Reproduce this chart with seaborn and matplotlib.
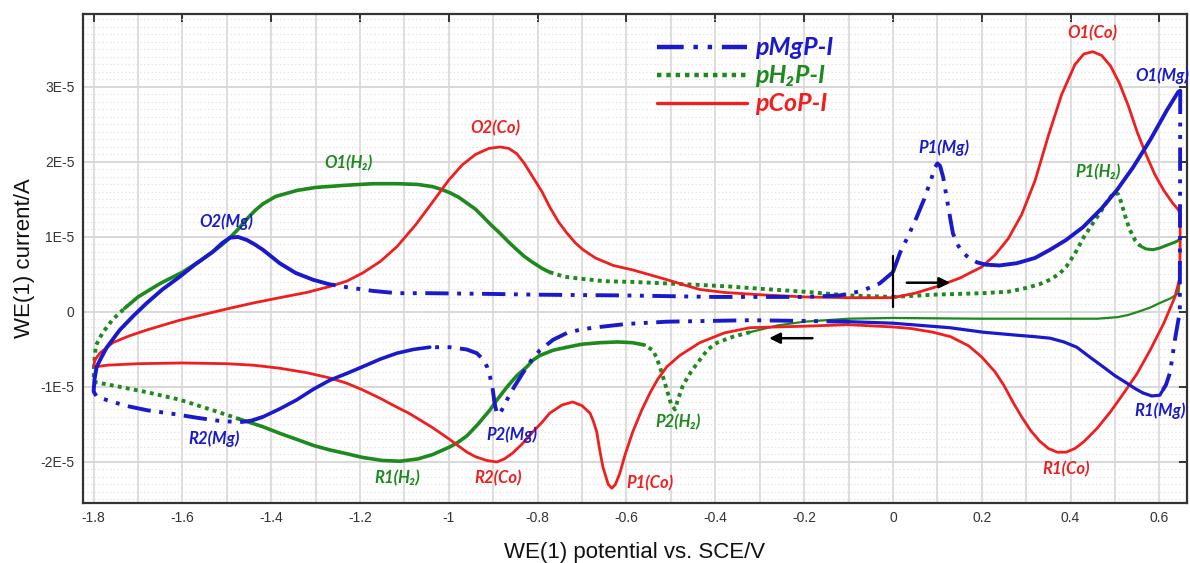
import numpy as np
import pandas as pd
import matplotlib
matplotlib.use("Agg")
import matplotlib.pyplot as plt
from matplotlib.ticker import FixedLocator, FixedFormatter, MultipleLocator
from matplotlib.lines import Line2D
import seaborn as sns

# Currents are listed in units of 1E-5 A
SCALE = 1e-5

# pMgP-I : anodic scan from 0 V to 0.65 V, cathodic scan to -1.8 V, anodic scan back to 0 V
mg_e = [0.0, 0.016, 0.035, 0.054, 0.07, 0.085, 0.095, 0.1, 0.106, 0.113, 0.122, 0.129,
        0.135, 0.145, 0.158, 0.173, 0.19, 0.21, 0.24, 0.279, 0.32, 0.354, 0.39, 0.428,
        0.47, 0.505, 0.541, 0.579, 0.617, 0.642,
        0.647, 0.646, 0.64, 0.635, 0.624, 0.615, 0.608, 0.601, 0.583, 0.563, 0.545,
        0.527, 0.5, 0.473, 0.443, 0.414, 0.385, 0.354, 0.32, 0.279, 0.203, 0.128, 0.0,
        -0.097, -0.2, -0.322, -0.509, -0.6, -0.66, -0.7, -0.734, -0.765, -0.795, -0.815,
        -0.833, -0.852, -0.869, -0.88, -0.887, -0.892, -0.897, -0.901, -0.907, -0.914,
        -0.925, -0.937, -0.96, -0.998, -1.043, -1.08, -1.117, -1.155, -1.194, -1.23,
        -1.268, -1.305, -1.342, -1.38, -1.419, -1.445, -1.471, -1.52, -1.568, -1.62,
        -1.68, -1.72, -1.757, -1.793,
        -1.8, -1.798, -1.793, -1.782, -1.77, -1.741, -1.71, -1.68, -1.645, -1.606,
        -1.57, -1.532, -1.51, -1.493, -1.475, -1.455, -1.437, -1.419, -1.4, -1.381,
        -1.345, -1.306, -1.27, -1.23, -1.17, -1.117, -1.043, -0.9, -0.8, -0.6, -0.4,
        -0.2, -0.12, -0.07, -0.03, 0.0]
mg_i = [0.53, 0.79, 1.02, 1.27, 1.5, 1.75, 1.93, 1.98, 1.95, 1.8, 1.49, 1.25,
        1.05, 0.9, 0.79, 0.71, 0.66, 0.63, 0.62, 0.65, 0.72, 0.83, 0.96, 1.13,
        1.38, 1.63, 1.93, 2.29, 2.69, 2.93,
        2.95, 0.0, -0.2, -0.37, -0.81, -0.97, -1.04, -1.11, -1.12, -1.08, -1.02,
        -0.95, -0.85, -0.73, -0.6, -0.47, -0.4, -0.35, -0.33, -0.31, -0.27, -0.21, -0.15,
        -0.13, -0.12, -0.11, -0.13, -0.16, -0.2, -0.23, -0.28, -0.37, -0.51, -0.65,
        -0.81, -0.99, -1.17, -1.3, -1.37, -1.35, -1.22, -1.04, -0.87, -0.73,
        -0.62, -0.55, -0.5, -0.47, -0.47, -0.5, -0.55, -0.63, -0.73, -0.82,
        -0.91, -1.03, -1.17, -1.29, -1.4, -1.45, -1.47, -1.45, -1.41, -1.36,
        -1.31, -1.26, -1.2, -1.13,
        -1.06, -0.9, -0.73, -0.6, -0.47, -0.24, -0.05, 0.12, 0.3, 0.47,
        0.64, 0.8, 0.92, 0.99, 1.0, 0.96, 0.9, 0.83, 0.74, 0.65,
        0.52, 0.43, 0.37, 0.33, 0.28, 0.25, 0.25, 0.24, 0.23, 0.22, 0.2,
        0.2, 0.22, 0.28, 0.38, 0.53]

# pH2P-I
h2_e = [0.0, 0.09, 0.2, 0.26, 0.3, 0.33, 0.354, 0.375, 0.39, 0.41, 0.43, 0.45, 0.466,
        0.48, 0.492, 0.5, 0.507, 0.513, 0.518, 0.526, 0.534, 0.545, 0.557, 0.57, 0.585,
        0.6, 0.617, 0.635, 0.645,
        0.647, 0.646, 0.643, 0.625, 0.601, 0.58, 0.556, 0.53, 0.505, 0.46, 0.428, 0.2,
        0.0, -0.1, -0.2, -0.26, -0.322, -0.36, -0.396, -0.417, -0.435, -0.455, -0.473,
        -0.483, -0.491, -0.5, -0.509, -0.517, -0.525, -0.533, -0.541, -0.56, -0.586,
        -0.62, -0.66, -0.7, -0.734, -0.765, -0.795, -0.81, -0.824, -0.847, -0.869,
        -0.89, -0.908, -0.935, -0.959, -0.98, -0.998, -1.036, -1.07, -1.11, -1.15,
        -1.194, -1.23, -1.268, -1.305, -1.342, -1.38, -1.419, -1.471, -1.532, -1.606,
        -1.68, -1.757, -1.793,
        -1.8, -1.799, -1.795, -1.78, -1.757, -1.73, -1.7, -1.65, -1.6, -1.56, -1.532,
        -1.51, -1.493, -1.475, -1.455, -1.435, -1.419, -1.39, -1.342, -1.3, -1.23,
        -1.17, -1.117, -1.07, -1.036, -1.015, -0.998, -0.978, -0.959, -0.94, -0.923,
        -0.905, -0.885, -0.865, -0.847, -0.83, -0.811, -0.79, -0.773, -0.74, -0.698,
        -0.65, -0.586, -0.509, -0.435, -0.37, -0.3, -0.2, -0.1, 0.0]
h2_i = [0.2, 0.23, 0.25, 0.27, 0.32, 0.37, 0.43, 0.51, 0.6, 0.78, 1.0, 1.18, 1.32,
        1.45, 1.55, 1.59, 1.57, 1.48, 1.38, 1.22, 1.09, 0.96, 0.88, 0.84, 0.83,
        0.85, 0.89, 0.93, 0.96,
        0.97, 0.45, 0.25, 0.18, 0.12, 0.06, 0.01, -0.04, -0.07, -0.09, -0.09, -0.09,
        -0.08, -0.09, -0.13, -0.18, -0.27, -0.33, -0.41, -0.5, -0.64, -0.8, -0.98,
        -1.15, -1.3, -1.22, -1.04, -0.88, -0.73, -0.6, -0.51, -0.44, -0.41,
        -0.4, -0.41, -0.43, -0.47, -0.51, -0.58, -0.64, -0.73, -0.85, -1.0,
        -1.16, -1.31, -1.5, -1.65, -1.74, -1.8, -1.9, -1.96, -1.99, -1.98,
        -1.94, -1.89, -1.84, -1.78, -1.7, -1.62, -1.53, -1.43, -1.31, -1.17,
        -1.07, -0.98, -0.94,
        -0.92, -0.7, -0.45, -0.28, -0.1, 0.05, 0.2, 0.38, 0.53, 0.68, 0.8,
        0.9, 0.99, 1.1, 1.24, 1.36, 1.44, 1.54, 1.62, 1.66, 1.69,
        1.71, 1.71, 1.7, 1.67, 1.63, 1.59, 1.53, 1.45, 1.37, 1.27,
        1.16, 1.05, 0.93, 0.83, 0.74, 0.66, 0.58, 0.53, 0.47, 0.44,
        0.41, 0.4, 0.38, 0.36, 0.34, 0.31, 0.27, 0.22, 0.2]

# pCoP-I
co_e = [0.0, 0.05, 0.1, 0.15, 0.2, 0.23, 0.26, 0.29, 0.32, 0.35, 0.38, 0.41, 0.43,
        0.45, 0.47, 0.49, 0.51, 0.53, 0.55, 0.57, 0.59, 0.61, 0.63, 0.643,
        0.647, 0.646, 0.635, 0.61, 0.58, 0.55, 0.52, 0.49, 0.46, 0.43, 0.41, 0.39,
        0.37, 0.35, 0.33, 0.31, 0.29, 0.27, 0.25, 0.23, 0.2, 0.17, 0.13, 0.09, 0.04,
        0.0, -0.1, -0.2, -0.322, -0.38, -0.435, -0.48, -0.509, -0.53, -0.547, -0.565,
        -0.586, -0.603, -0.615, -0.625, -0.633, -0.641, -0.653, -0.66, -0.667, -0.675,
        -0.682, -0.7, -0.721, -0.745, -0.773, -0.79, -0.811, -0.835, -0.856, -0.875,
        -0.892, -0.915, -0.94, -0.959, -0.98, -0.998, -1.02, -1.04, -1.065, -1.09,
        -1.117, -1.155, -1.194, -1.23, -1.268, -1.32, -1.381, -1.44, -1.5, -1.6, -1.7,
        -1.77, -1.793,
        -1.8, -1.797, -1.786, -1.757, -1.72, -1.68, -1.606, -1.55, -1.493, -1.44,
        -1.381, -1.32, -1.268, -1.23, -1.194, -1.155, -1.117, -1.075, -1.036, -1.0,
        -0.97, -0.94, -0.91, -0.885, -0.865, -0.847, -0.83, -0.811, -0.79, -0.773,
        -0.753, -0.734, -0.715, -0.698, -0.67, -0.63, -0.586, -0.55, -0.509, -0.47,
        -0.435, -0.38, -0.3, -0.2, -0.1, 0.0]
co_i = [0.19, 0.25, 0.34, 0.45, 0.6, 0.76, 0.98, 1.3, 1.75, 2.35, 2.9, 3.3, 3.44,
        3.47, 3.42, 3.28, 3.05, 2.75, 2.4, 2.1, 1.83, 1.62, 1.45, 1.36,
        1.3, 0.45, 0.2, -0.15, -0.5, -0.82, -1.08, -1.33, -1.55, -1.73, -1.82, -1.87,
        -1.87, -1.82, -1.72, -1.58, -1.4, -1.2, -0.98, -0.8, -0.6, -0.45, -0.33, -0.27,
        -0.22, -0.2, -0.17, -0.19, -0.21, -0.28, -0.41, -0.58, -0.73, -0.9, -1.08, -1.3,
        -1.6, -1.9, -2.15, -2.3, -2.35, -2.3, -2.07, -1.85, -1.6, -1.45,
        -1.35, -1.25, -1.2, -1.24, -1.35, -1.47, -1.6, -1.76, -1.88, -1.96,
        -2.0, -1.98, -1.93, -1.87, -1.78, -1.7, -1.61, -1.53, -1.44, -1.35,
        -1.27, -1.15, -1.04, -0.95, -0.88, -0.81, -0.75, -0.71, -0.69, -0.68, -0.69,
        -0.71, -0.73,
        -0.72, -0.64, -0.55, -0.41, -0.32, -0.24, -0.11, -0.03, 0.05, 0.12,
        0.19, 0.26, 0.34, 0.41, 0.52, 0.67, 0.87, 1.16, 1.47, 1.76,
        1.96, 2.1, 2.18, 2.2, 2.18, 2.11, 1.98, 1.8, 1.6, 1.4,
        1.2, 1.05, 0.92, 0.83, 0.72, 0.62, 0.56, 0.5, 0.43, 0.36,
        0.3, 0.26, 0.23, 0.2, 0.19, 0.19]

series_names = ["pMgP-I", "pH\u2082P-I", "pCoP-I"]

x_ticks = [-1.8, -1.6, -1.4, -1.2, -1.0, -0.8, -0.6, -0.4, -0.2, 0.0, 0.2, 0.4, 0.6]
x_tick_labels = ["-1.8", "-1.6", "-1.4", "-1.2", "-1", "-0.8", "-0.6", "-0.4", "-0.2",
                 "0", "0.2", "0.4", "0.6"]
y_ticks = [-2e-5, -1e-5, 0.0, 1e-5, 2e-5, 3e-5]
y_tick_labels = ["-2E-5", "-1E-5", "0", "1E-5", "2E-5", "3E-5"]

# Peak labels: text, potential (V), current (1E-5 A), series key
peak_labels = [
    ("O1(Co)", 0.448, 3.72, "co"), ("O1(Mg)", 0.606, 3.15, "mg"),
    ("P1(Mg)", 0.115, 2.19, "mg"), ("P1(H\u2082)", 0.462, 1.87, "h2"),
    ("O2(Co)", -0.896, 2.45, "co"), ("O1(H\u2082)", -1.227, 1.99, "h2"),
    ("O2(Mg)", -1.502, 1.20, "mg"), ("R2(Mg)", -1.529, -1.69, "mg"),
    ("R1(H\u2082)", -1.117, -2.21, "h2"), ("R2(Co)", -0.89, -2.21, "co"),
    ("P2(Mg)", -0.858, -1.64, "mg"), ("P1(Co)", -0.547, -2.28, "co"),
    ("P2(H\u2082)", -0.484, -1.47, "h2"), ("R1(Co)", 0.39, -2.09, "co"),
    ("R1(Mg)", 0.601, -1.32, "mg"),
]

colors = {"mg": "#1a1acc", "h2": "#1e8a1e", "co": "#f01e1e"}
patterns = {
    "mg": dict(lw=2.8, ls=(0, (6, 2.2, 1, 2.2, 1, 2.2))),
    "h2": dict(lw=2.8, ls=(0, (1, 1.1))),
    "co": dict(lw=2.0, ls="-"),
}
# Stretches of the traces where the recorded points are dense enough to read as a
# continuous line: (scan branch, lower E, upper E, width)
dense_runs = {
    "mg": [("a1", 0.22, 0.7, 2.8), ("c", -0.1, 0.61, 2.3), ("c", -1.4, -1.05, 2.6),
           ("a2", -1.85, -1.3, 2.8)],
    "h2": [("a1", 0.555, 0.7, 2.2), ("c", -0.3, 0.7, 1.6), ("c", -1.45, -0.56, 2.6),
           ("a2", -1.74, -0.76, 2.6)],
    "co": [],
}


def branch_of_segments(e):
    e = np.asarray(e)
    i_hi, i_lo = int(np.argmax(e)), int(np.argmin(e))
    out = []
    for k in range(len(e) - 1):
        out.append("a1" if k < i_hi else ("c" if k < i_lo else "a2"))
    return out


def draw_trace(ax, key, e, i, z):
    e = np.asarray(e, dtype=float)
    i = np.asarray(i, dtype=float) * SCALE
    branches = branch_of_segments(e)
    seg_style = []
    for k in range(len(e) - 1):
        mid = 0.5 * (e[k] + e[k + 1])
        st = ("pat", patterns[key]["lw"])
        for br, lo, hi, w in dense_runs[key]:
            if branches[k] == br and lo <= mid <= hi:
                st = ("solid", w)
                break
        seg_style.append(st)
    start = 0
    for k in range(1, len(seg_style) + 1):
        if k == len(seg_style) or seg_style[k] != seg_style[start]:
            kind, w = seg_style[start]
            run = pd.DataFrame({"E": e[start:k + 1], "I": i[start:k + 1]})
            ls = "-" if kind == "solid" else patterns[key]["ls"]
            sns.lineplot(data=run, x="E", y="I", sort=False, estimator=None, ax=ax,
                         color=colors[key], linewidth=w, linestyle=ls, zorder=z)
            start = k


sns.set_theme(style="white")
plt.rcParams["font.family"] = ["Liberation Sans", "DejaVu Sans"]

fig = plt.figure(figsize=(11.9, 5.63), dpi=100)
ax = fig.add_axes([0.0697, 0.1066, 0.9277, 0.8686])

draw_trace(ax, "h2", h2_e, h2_i, 3)
draw_trace(ax, "co", co_e, co_i, 4)
draw_trace(ax, "mg", mg_e, mg_i, 5)

ax.set_xlim(-1.824, 0.662)
ax.set_ylim(-2.547e-5, 3.973e-5)

ax.xaxis.set_major_locator(FixedLocator(x_ticks))
ax.xaxis.set_major_formatter(FixedFormatter(x_tick_labels))
ax.xaxis.set_minor_locator(MultipleLocator(0.1))
ax.yaxis.set_major_locator(FixedLocator(y_ticks))
ax.yaxis.set_major_formatter(FixedFormatter(y_tick_labels))
ax.yaxis.set_minor_locator(MultipleLocator(1e-6))

ax.tick_params(which="both", direction="in", top=True, right=True, color="#333333")
ax.tick_params(which="major", length=6, width=1.4, labelsize=10, labelcolor="#333333", pad=6)
ax.tick_params(which="minor", length=3.5, width=1.0)
ax.tick_params(axis="y", which="minor", right=False)
ax.tick_params(axis="x", which="minor", top=False)

ax.set_axisbelow(True)
ax.xaxis.grid(True, which="both", color="#d8d8d8", lw=1.2, ls="-")
ax.yaxis.grid(True, which="major", color="#d8d8d8", lw=1.4, ls="-")
ax.yaxis.grid(True, which="minor", color="#e2e2e2", lw=0.8, ls=(0, (1.2, 2.2)))

for s in ax.spines.values():
    s.set_color("#333333")
    s.set_linewidth(1.6)

ax.set_xlabel("WE(1) potential vs. SCE/V", fontsize=16, color="#111111")
ax.set_ylabel("WE(1) current/A", fontsize=16, color="#111111")
ax.xaxis.set_label_coords(0.5, -0.08)
ax.yaxis.set_label_coords(-0.043, 0.5)

ann_font = ["Lato", "DejaVu Sans"]
for text, e, i, key in peak_labels:
    ax.text(e, i * SCALE, text, color=colors[key], fontsize=12, fontweight="bold",
            fontstyle="italic", family=ann_font, ha="center", va="center", zorder=7)

# Scan start marker and scan direction arrows
ax.plot([0, 0], [0.07 * SCALE, 0.75 * SCALE], color="black", lw=1.6, zorder=6)
ax.annotate("", xy=(0.135, 0.39 * SCALE), xytext=(0.025, 0.39 * SCALE),
            arrowprops=dict(arrowstyle="-|>", color="black", lw=1.8, mutation_scale=16),
            zorder=6)
ax.annotate("", xy=(-0.285, -0.35 * SCALE), xytext=(-0.175, -0.35 * SCALE),
            arrowprops=dict(arrowstyle="-|>", color="black", lw=1.8, mutation_scale=16),
            zorder=6)

handles = [Line2D([], [], color=colors[k], lw=patterns[k]["lw"] + 0.4, ls=patterns[k]["ls"])
           for k in ["mg", "h2", "co"]]
leg = ax.legend(handles, series_names, loc="upper left", bbox_to_anchor=(0.5, 1.0),
                frameon=False, handlelength=3.6, handletextpad=0.3, labelspacing=0.2,
                labelcolor="linecolor",
                prop=dict(family=ann_font, weight="bold", style="italic", size=18))

fig.savefig("out.png", dpi=100)
